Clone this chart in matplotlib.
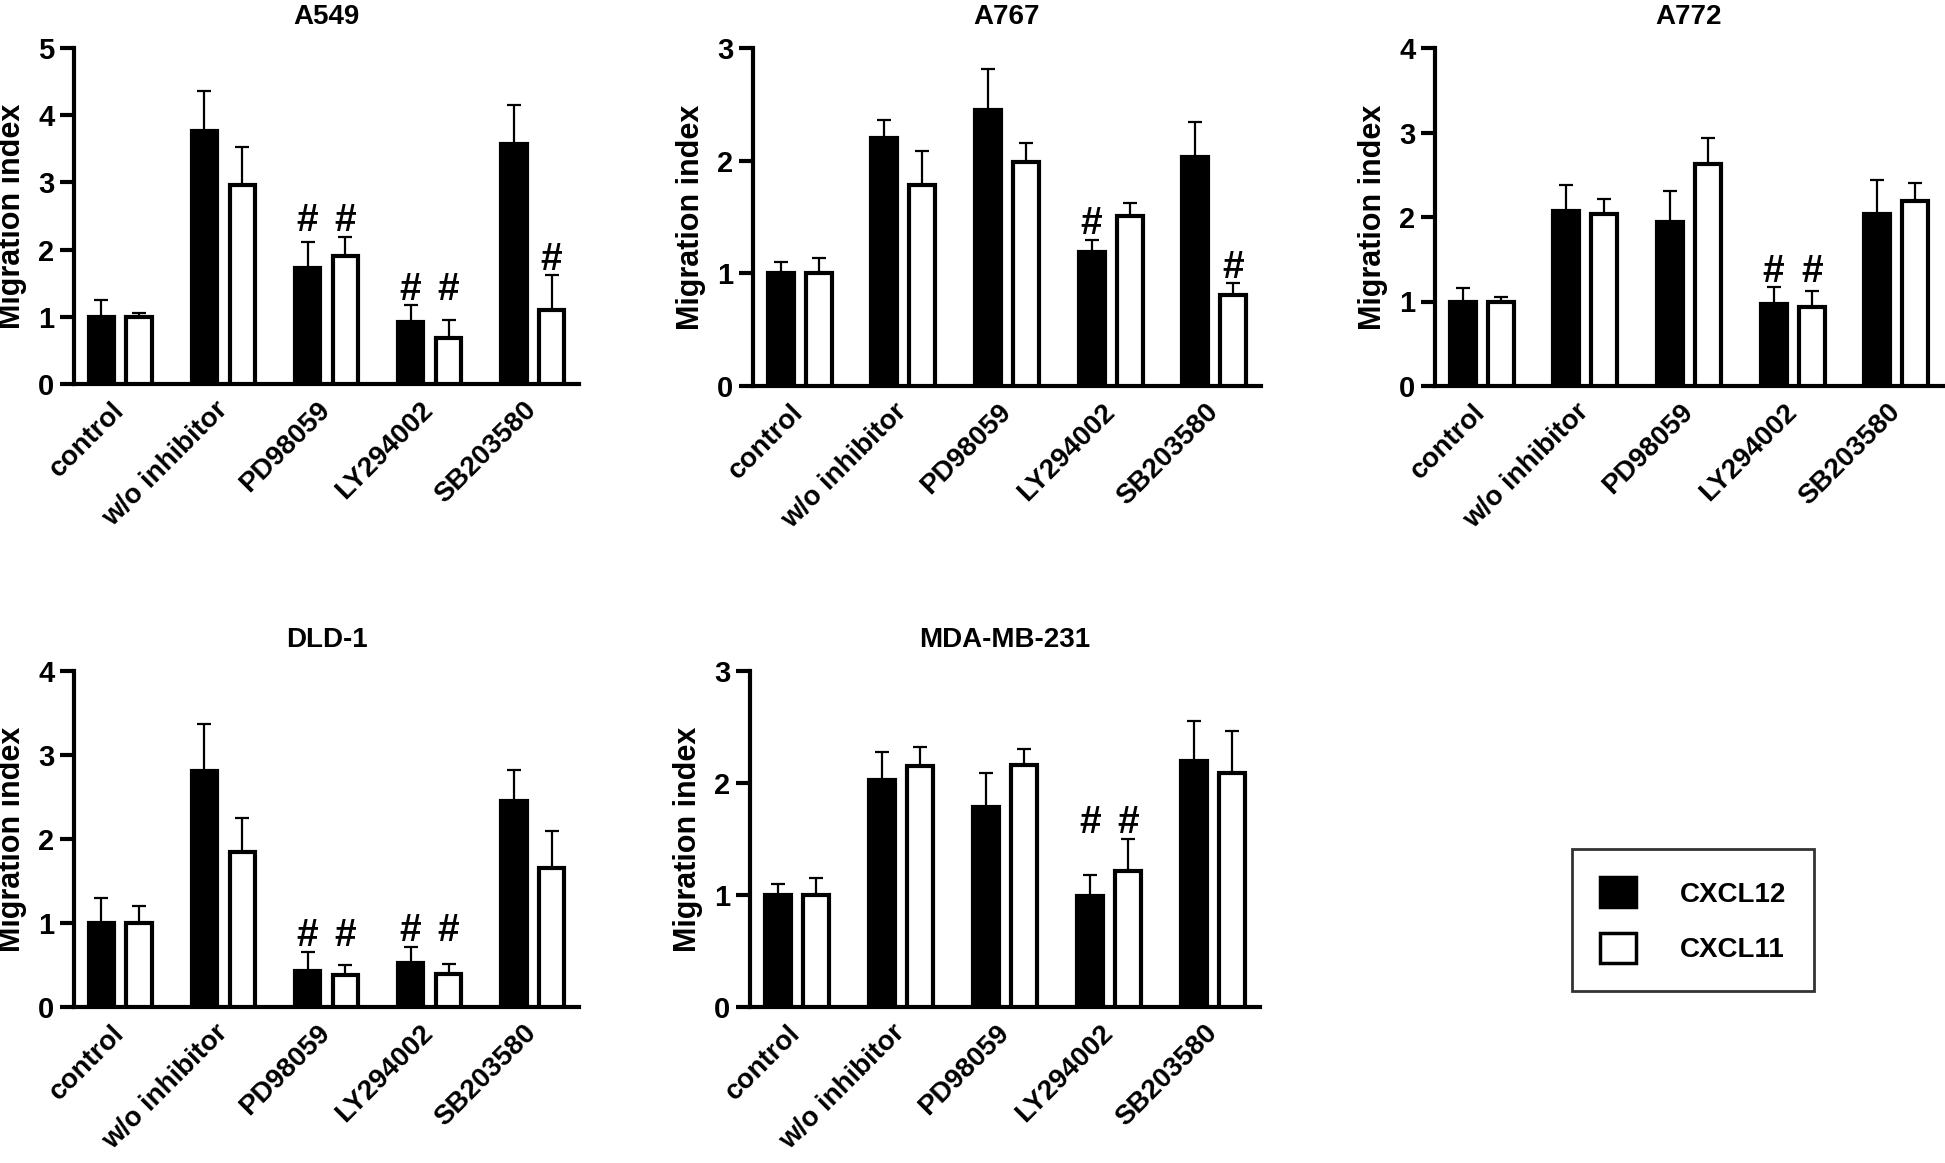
import numpy as np
import matplotlib
matplotlib.use("Agg")
import matplotlib.pyplot as plt
from matplotlib.patches import Patch

plt.rcParams['font.family'] = ['Liberation Sans', 'DejaVu Sans']
plt.rcParams['font.weight'] = 'bold'

groups = ["control", "w/o inhibitor", "PD98059", "LY294002", "SB203580"]

# mean values and upper error (SEM)
a549_cxcl12 = [1.00, 3.76, 1.73, 0.92, 3.57]
a549_cxcl12_err = [0.25, 0.60, 0.39, 0.25, 0.58]
a549_cxcl11 = [1.00, 2.96, 1.90, 0.69, 1.10]
a549_cxcl11_err = [0.05, 0.57, 0.29, 0.26, 0.52]

a767_cxcl12 = [1.00, 2.20, 2.45, 1.19, 2.03]
a767_cxcl12_err = [0.10, 0.16, 0.36, 0.11, 0.31]
a767_cxcl11 = [1.00, 1.78, 1.99, 1.51, 0.81]
a767_cxcl11_err = [0.14, 0.31, 0.17, 0.11, 0.10]

a772_cxcl12 = [1.00, 2.07, 1.94, 0.97, 2.03]
a772_cxcl12_err = [0.16, 0.31, 0.37, 0.20, 0.41]
a772_cxcl11 = [1.00, 2.03, 2.63, 0.94, 2.19]
a772_cxcl11_err = [0.05, 0.18, 0.30, 0.19, 0.21]

dld1_cxcl12 = [1.00, 2.81, 0.43, 0.52, 2.45]
dld1_cxcl12_err = [0.30, 0.56, 0.23, 0.20, 0.37]
dld1_cxcl11 = [1.00, 1.84, 0.38, 0.39, 1.66]
dld1_cxcl11_err = [0.20, 0.41, 0.12, 0.12, 0.43]

mda_cxcl12 = [1.00, 2.03, 1.79, 0.99, 2.20]
mda_cxcl12_err = [0.10, 0.25, 0.30, 0.19, 0.35]
mda_cxcl11 = [1.00, 2.15, 2.16, 1.21, 2.09]
mda_cxcl11_err = [0.15, 0.17, 0.14, 0.29, 0.37]

# '#' significance marks (vs. w/o inhibitor)
a549_sig12 = [0, 0, 1, 1, 0]
a549_sig11 = [0, 0, 1, 1, 1]
a767_sig12 = [0, 0, 0, 1, 0]
a767_sig11 = [0, 0, 0, 0, 1]
a772_sig12 = [0, 0, 0, 1, 0]
a772_sig11 = [0, 0, 0, 1, 0]
dld1_sig12 = [0, 0, 1, 1, 0]
dld1_sig11 = [0, 0, 1, 1, 0]
mda_sig12 = [0, 0, 0, 1, 0]
mda_sig11 = [0, 0, 0, 1, 0]

W, H = 1945, 1163
fig = plt.figure(figsize=(W / 100, H / 100), dpi=100)


def box(x0, y_top, x1, y_bot):
    return [x0 / W, 1 - y_bot / H, (x1 - x0) / W, (y_bot - y_top) / H]


panels = [
    ("A549", box(74, 48, 579, 384), 5, a549_cxcl12, a549_cxcl12_err, a549_cxcl11, a549_cxcl11_err, a549_sig12, a549_sig11),
    ("A767", box(753, 48, 1261, 386), 3, a767_cxcl12, a767_cxcl12_err, a767_cxcl11, a767_cxcl11_err, a767_sig12, a767_sig11),
    ("A772", box(1435, 48, 1943, 386), 4, a772_cxcl12, a772_cxcl12_err, a772_cxcl11, a772_cxcl11_err, a772_sig12, a772_sig11),
    ("DLD-1", box(74, 671, 579, 1007), 4, dld1_cxcl12, dld1_cxcl12_err, dld1_cxcl11, dld1_cxcl11_err, dld1_sig12, dld1_sig11),
    ("MDA-MB-231", box(750, 671, 1260, 1007), 3, mda_cxcl12, mda_cxcl12_err, mda_cxcl11, mda_cxcl11_err, mda_sig12, mda_sig11),
]

x = np.arange(len(groups))
w = 0.25
off = 0.184
lw = 3.0

for title, rect, ymax, v12, e12, v11, e11, s12, s11 in panels:
    ax = fig.add_axes(rect)
    zeros = np.zeros(len(groups))
    ax.bar(x - off, v12, w, color="black", edgecolor="black", linewidth=lw, zorder=3)
    ax.bar(x + off, v11, w, color="white", edgecolor="black", linewidth=lw, zorder=3)
    ax.errorbar(x - off, v12, yerr=[zeros, e12], fmt="none", ecolor="black",
                elinewidth=1.6, capsize=5, capthick=1.6, zorder=2)
    ax.errorbar(x + off, v11, yerr=[zeros, e11], fmt="none", ecolor="black",
                elinewidth=1.6, capsize=5, capthick=1.6, zorder=2)

    tops = np.maximum(np.array(v12) + np.array(e12), np.array(v11) + np.array(e11))
    for i in range(len(groups)):
        both = s12[i] and s11[i]
        for flag, xpos, own in ((s12[i], x[i] - off, v12[i] + e12[i]),
                                (s11[i], x[i] + off, v11[i] + e11[i])):
            if flag:
                ax.annotate("#", (xpos, tops[i] if both else own), xytext=(0, 4),
                            textcoords="offset points", ha="center", va="baseline",
                            fontsize=28, fontweight="bold")

    ax.set_xlim(-0.45, len(groups) - 0.55)
    ax.set_ylim(0, ymax)
    ax.set_yticks(range(ymax + 1))
    ax.set_xticks(x)
    ax.set_xticklabels(groups, rotation=45, ha="right", va="center",
                       rotation_mode="anchor", fontsize=20, fontweight="bold")
    ax.tick_params(axis="x", length=0, pad=16)
    ax.tick_params(axis="y", length=10, width=3, labelsize=21, pad=4)
    for lab in ax.get_yticklabels():
        lab.set_fontweight("bold")
    for side in ("top", "right"):
        ax.spines[side].set_visible(False)
    for side in ("left", "bottom"):
        ax.spines[side].set_linewidth(3)
    ax.set_ylabel("Migration index", fontsize=22, fontweight="bold", labelpad=8)
    ax.set_title(title, fontsize=20, fontweight="bold", pad=17)

handles = [Patch(facecolor="black", edgecolor="black", linewidth=2.5),
           Patch(facecolor="white", edgecolor="black", linewidth=2.5)]
leg = fig.legend(handles, ["CXCL12", "CXCL11"], loc="center",
                 bbox_to_anchor=(1693 / W, 1 - 920 / H), frameon=True, fancybox=False,
                 edgecolor="black", fontsize=20, handlelength=1.3, handleheight=1.3,
                 handletextpad=1.6, labelspacing=0.9, borderpad=1.0, borderaxespad=0)
leg.get_frame().set_linewidth(2)
for t in leg.get_texts():
    t.set_fontweight("bold")

fig.savefig("out.png", dpi=100)
